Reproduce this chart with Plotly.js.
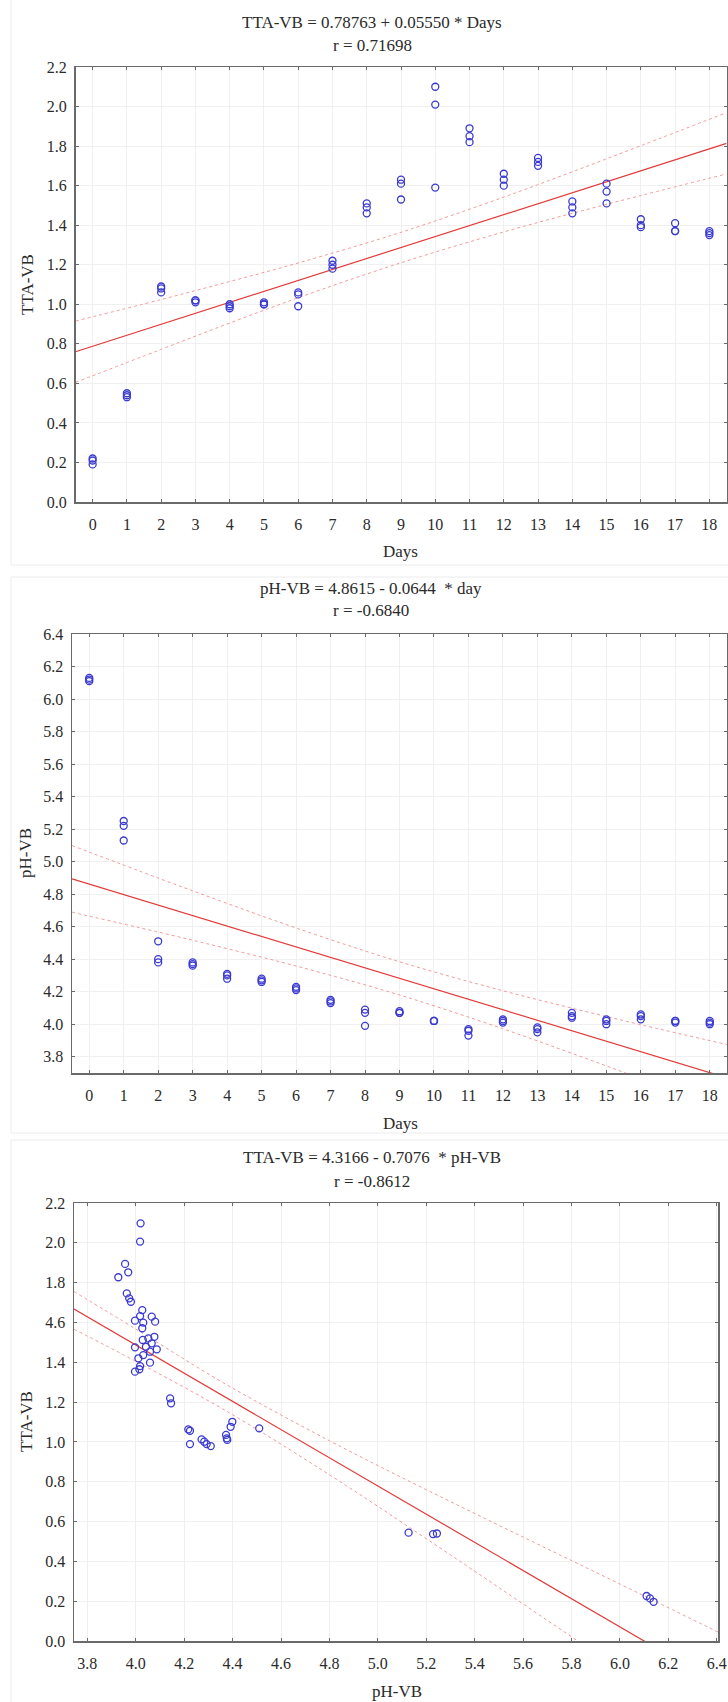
<!DOCTYPE html>
<html>
<head>
<meta charset="utf-8">
<script src="https://cdn.plot.ly/plotly-3.0.1.min.js"></script>
<style>html,body{margin:0;padding:0;background:#fff;}#chart{width:728px;height:1702px;}</style>
</head>
<body>
<div id="chart"></div>
<script>
// ---------- data ----------
const days = [0,1,2,3,4,5,6,7,8,9,10,11,12,13,14,15,16,17,18];
// TTA-VB replicates per day
const ttaA = [0.19,0.53,1.06,1.01,0.98,1.00,0.99,1.18,1.46,1.53,1.59,1.82,1.60,1.70,1.46,1.51,1.39,1.37,1.35];
const ttaB = [0.21,0.54,1.08,1.02,0.99,1.00,1.05,1.20,1.49,1.61,2.01,1.85,1.63,1.72,1.49,1.57,1.40,1.37,1.36];
const ttaC = [0.22,0.55,1.09,1.02,1.00,1.01,1.06,1.22,1.51,1.63,2.10,1.89,1.66,1.74,1.52,1.61,1.43,1.41,1.37];
// pH-VB replicates per day
const phA = [6.11,5.13,4.38,4.36,4.28,4.26,4.21,4.13,3.99,4.07,4.02,3.93,4.01,3.95,4.04,4.00,4.03,4.01,4.00];
const phB = [6.12,5.22,4.40,4.37,4.30,4.27,4.22,4.14,4.07,4.07,4.02,3.96,4.02,3.97,4.05,4.02,4.05,4.02,4.01];
const phC = [6.13,5.25,4.51,4.38,4.31,4.28,4.23,4.15,4.09,4.08,4.02,3.97,4.03,3.98,4.07,4.03,4.06,4.02,4.02];
// TTA-VB vs pH-VB scatter (panel 3)
const scatterPH = [4.02,4.018,3.956,3.969,3.928,3.963,3.973,3.980,4.027,4.018,3.997,4.031,4.027,4.066,4.080,4.077,4.052,4.029,4.066,4.087,3.997,4.042,4.059,4.031,4.011,4.018,4.059,3.997,4.015,4.142,4.146,4.217,4.224,4.224,4.272,4.283,4.293,4.310,4.373,4.376,4.378,4.392,4.399,4.510,5.127,5.228,5.244,6.110,6.124,6.139];
const scatterTTA = [2.098,2.006,1.894,1.852,1.827,1.746,1.721,1.704,1.662,1.632,1.609,1.599,1.571,1.629,1.604,1.528,1.520,1.512,1.495,1.465,1.475,1.478,1.453,1.436,1.420,1.381,1.398,1.353,1.365,1.219,1.194,1.063,1.056,0.989,1.013,1.001,0.989,0.979,1.035,1.018,1.010,1.076,1.101,1.068,0.544,0.537,0.540,0.226,0.214,0.197];

// regression lines and 95% bands
const fit1X = [-0.5, 18.5];
const fit1Y = [0.760, 1.814];
const band1X = [-0.5, 2, 4, 6, 9, 12, 14, 16, 18.5];
const band1Up = [0.915, 1.024, 1.115, 1.209, 1.364, 1.542, 1.670, 1.802, 1.969];
const band1Lo = [0.605, 0.772, 0.905, 1.033, 1.210, 1.366, 1.460, 1.550, 1.659];

const fit2X = [-0.5, 18.5];
const fit2Y = [4.894, 3.670];
const band2X = [-0.5, 2, 4, 6, 9, 12, 14, 16, 18.5];
const band2Up = [5.099, 4.899, 4.743, 4.592, 4.384, 4.206, 4.099, 3.997, 3.875];
const band2Lo = [4.689, 4.567, 4.465, 4.358, 4.180, 3.972, 3.821, 3.665, 3.465];

const fit3X = [3.745, 6.405];
const fit3Y = [1.667, -0.216];
const band3X = [3.745, 4.0, 4.37, 4.8, 5.2, 5.6, 6.0, 6.405];
const band3Up = [1.755, 1.567, 1.291, 1.006, 0.760, 0.522, 0.286, 0.045];
const band3Lo = [1.566, 1.405, 1.158, 0.835, 0.514, 0.186, -0.144, -0.480];

// tick labels
const dayTicks = days.map(String);
const tta3TickVals = [0.0,0.2,0.4,0.6,0.8,1.0,1.2,1.4,1.6,1.8,2.0,2.2];
const tta3TickText = ["0.0","0.2","0.4","0.6","0.8","1.0","1.2","1.4","4.6","1.8","2.0","2.2"];

// titles
const titles1 = ["TTA-VB = 0.78763 + 0.05550 * Days", "r = 0.71698"];
const titles2 = ["pH-VB = 4.8615 - 0.0644  * day", "r = -0.6840"];
const titles3 = ["TTA-VB = 4.3166 - 0.7076  * pH-VB", "r = -0.8612"];

// ---------- drawing ----------
const W = 728, H = 1702;
const FONT = "Liberation Serif, Times New Roman, serif";
const TXT = "#2a2a2a";
const MARK = "#3a3ad0";
const FITC = "#e23a3a";
const BANDC = "#f29a9a";

function rep3(a, b, c) { return a.concat(b, c); }
const daysAll = rep3(days, days, days);

function px2x(p) { return p / W; }
function px2y(p) { return 1 - p / H; }

const marker = {symbol: "circle-open", size: 7, color: MARK, line: {width: 1.3, color: MARK}};

const traces = [];
function addPanel(xa, ya, x, y, fx, fy, bx, bu, bl) {
  traces.push({x: bx, y: bu, xaxis: xa, yaxis: ya, mode: "lines", line: {color: BANDC, width: 1, dash: "dot", shape: "spline"}, hoverinfo: "skip"});
  traces.push({x: bx, y: bl, xaxis: xa, yaxis: ya, mode: "lines", line: {color: BANDC, width: 1, dash: "dot", shape: "spline"}, hoverinfo: "skip"});
  traces.push({x: fx, y: fy, xaxis: xa, yaxis: ya, mode: "lines", line: {color: FITC, width: 1.2}});
  traces.push({x: x, y: y, xaxis: xa, yaxis: ya, mode: "markers", marker: marker});
}
addPanel("x", "y", daysAll, rep3(ttaA, ttaB, ttaC), fit1X, fit1Y, band1X, band1Up, band1Lo);
addPanel("x2", "y2", daysAll, rep3(phA, phB, phC), fit2X, fit2Y, band2X, band2Up, band2Lo);
addPanel("x3", "y3", scatterPH, scatterTTA, fit3X, fit3Y, band3X, band3Up, band3Lo);

function axisBase(extra) {
  return Object.assign({
    showline: true, linecolor: "#6a6a6a", linewidth: 1.5, mirror: "ticks",
    ticks: "inside", ticklen: 3, tickcolor: "#6a6a6a", tickwidth: 1,
    showgrid: true, gridcolor: "#f0f0f0", gridwidth: 1, zeroline: false,
    tickfont: {family: FONT, size: 16, color: TXT}, fixedrange: true
  }, extra);
}

// panel geometry in pixels
const P1 = {l: 75.5, r: 726.5, t: 67, b: 502};
const P2 = {l: 72, r: 727, t: 634, b: 1073};
const P3 = {l: 74, r: 718, t: 1203, b: 1641};

const layout = {
  width: W, height: H,
  margin: {l: 0, r: 0, t: 0, b: 0},
  paper_bgcolor: "#ffffff", plot_bgcolor: "#ffffff",
  showlegend: false,
  font: {family: FONT, color: TXT},
  xaxis: axisBase({domain: [px2x(P1.l), px2x(P1.r)], anchor: "y", range: [-0.5, 18.5], tickvals: days, ticktext: dayTicks, ticklabelstandoff: 7}),
  yaxis: axisBase({domain: [px2y(P1.b), px2y(P1.t)], anchor: "x", range: [0, 2.2], dtick: 0.2, tick0: 0, tickformat: ".1f", ticklabelstandoff: 4}),
  xaxis2: axisBase({domain: [px2x(P2.l), px2x(P2.r)], anchor: "y2", range: [-0.5, 18.5], tickvals: days, ticktext: dayTicks, ticklabelstandoff: 7}),
  yaxis2: axisBase({domain: [px2y(P2.b), px2y(P2.t)], anchor: "x2", range: [3.7, 6.4], dtick: 0.2, tick0: 3.8, tickformat: ".1f", ticklabelstandoff: 4}),
  xaxis3: axisBase({domain: [px2x(P3.l), px2x(P3.r)], anchor: "y3", range: [3.745, 6.405], dtick: 0.2, tick0: 3.8, tickformat: ".1f", ticklabelstandoff: 7}),
  yaxis3: axisBase({domain: [px2y(P3.b), px2y(P3.t)], anchor: "x3", range: [0, 2.2], tickvals: tta3TickVals, ticktext: tta3TickText, ticklabelstandoff: 4}),
  annotations: [],
  shapes: []
};

function ann(text, xpx, ypx, size, angle) {
  layout.annotations.push({
    xref: "paper", yref: "paper", x: px2x(xpx), y: px2y(ypx),
    xanchor: "center", yanchor: "middle", showarrow: false, text: text,
    textangle: angle || 0,
    font: {family: FONT, size: size, color: TXT}
  });
}
// panel titles
ann(titles1[0], 372, 22, 17); ann(titles1[1], 372, 45, 17);
ann(titles2[0], 371, 588, 17); ann(titles2[1], 371, 611, 17);
ann(titles3[0], 372, 1157, 17); ann(titles3[1], 372, 1181, 17);
// axis titles
ann("Days", 400, 551, 17);
ann("TTA-VB", 28, 285, 17, -90);
ann("Days", 400, 1123, 17);
ann("pH-VB", 26, 853, 17, -90);
ann("pH-VB", 397, 1691, 17);
ann("TTA-VB", 26, 1422, 17, -90);

// faint outer frames of the three panels
function frame(x0, y0, x1, y1) {
  layout.shapes.push({type: "rect", xref: "paper", yref: "paper", x0: px2x(x0), x1: px2x(x1), y0: px2y(y1), y1: px2y(y0), line: {color: "#ececec", width: 1}, fillcolor: "rgba(0,0,0,0)"});
}
frame(11, -2, 740, 565);
frame(11, 577, 740, 1133);
frame(11, 1140, 740, 1710);

Plotly.newPlot("chart", traces, layout, {staticPlot: true, displayModeBar: false});
</script>
</body>
</html>
